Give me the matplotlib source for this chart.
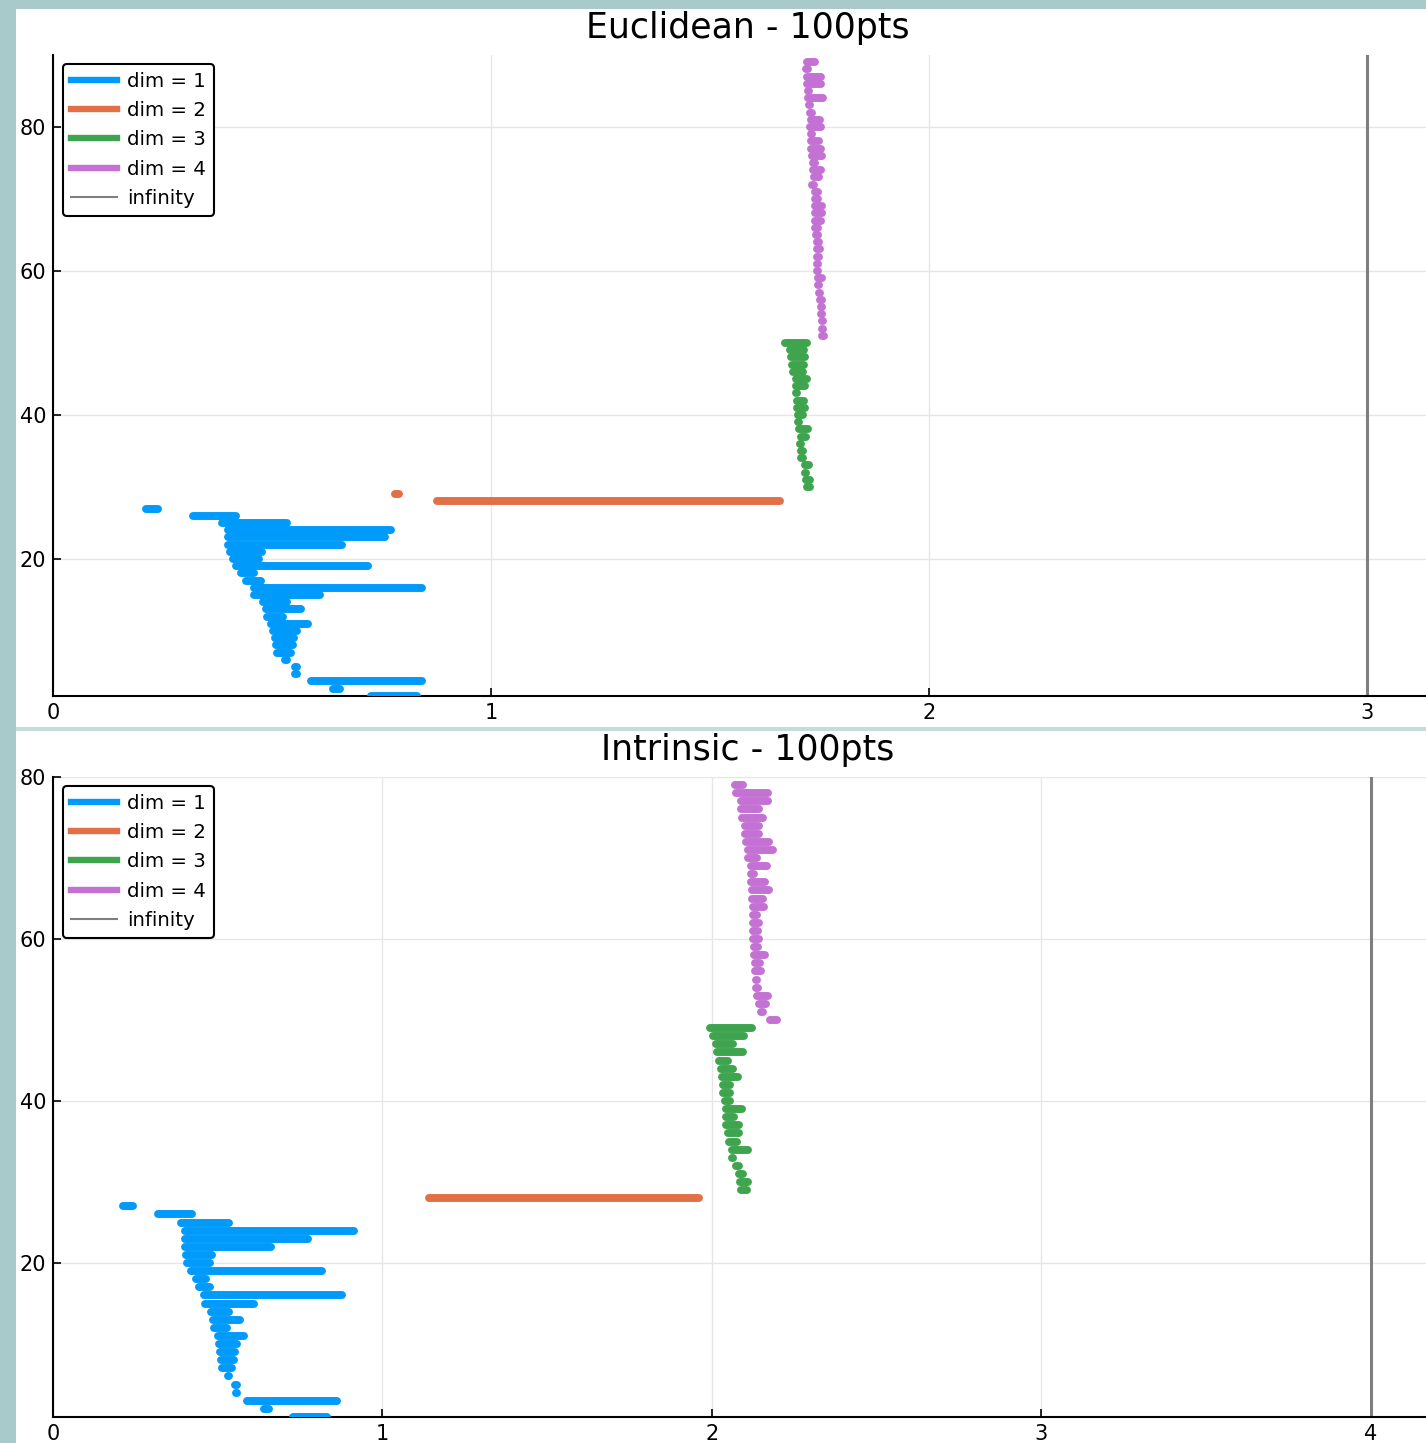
"""
Persistence barcodes for 100 sample points, Euclidean vs intrinsic distance.
"""

import matplotlib.pyplot as plt
from matplotlib.lines import Line2D
from matplotlib.patches import Rectangle

DIM_COLORS = ['#009AFA', '#E36F47', '#3EA44E', '#C371D2']
INF_COLOR = '#7f7f7f'
DIM_LABELS = ['dim = 1', 'dim = 2', 'dim = 3', 'dim = 4']

# Euclidean barcode, bars listed from the bottom up
euc_dim1_birth = [0.726, 0.640, 0.589, 0.552, 0.552, 0.530, 0.511, 0.509, 0.507, 0.502,
                  0.498, 0.489, 0.486, 0.480, 0.460, 0.459, 0.440, 0.430, 0.418, 0.410,
                  0.405, 0.400, 0.400, 0.400, 0.386, 0.320, 0.212]
euc_dim1_death = [0.830, 0.655, 0.842, 0.556, 0.556, 0.534, 0.543, 0.548, 0.550, 0.557,
                  0.582, 0.525, 0.566, 0.534, 0.610, 0.842, 0.475, 0.460, 0.720, 0.470,
                  0.478, 0.660, 0.758, 0.772, 0.534, 0.418, 0.240]
euc_dim2_birth = [0.877, 0.780]
euc_dim2_death = [1.660, 0.790]
euc_dim3_birth = [1.722, 1.719, 1.716, 1.717, 1.709, 1.708, 1.706, 1.707, 1.703, 1.700,
                  1.700, 1.699, 1.698, 1.696, 1.696, 1.696, 1.690, 1.687, 1.685, 1.683,
                  1.671]
euc_dim3_death = [1.728, 1.728, 1.719, 1.726, 1.712, 1.712, 1.709, 1.719, 1.725, 1.703,
                  1.712, 1.717, 1.714, 1.699, 1.717, 1.721, 1.712, 1.714, 1.717, 1.715,
                  1.721]
euc_dim4_birth = [1.757, 1.755, 1.755, 1.754, 1.753, 1.752, 1.749, 1.747, 1.747, 1.744,
                  1.744, 1.745, 1.745, 1.745, 1.743, 1.741, 1.741, 1.739, 1.739, 1.739,
                  1.739, 1.734, 1.737, 1.736, 1.736, 1.734, 1.731, 1.731, 1.730, 1.728,
                  1.730, 1.728, 1.726, 1.724, 1.724, 1.722, 1.722, 1.720, 1.721]
euc_dim4_death = [1.760, 1.758, 1.758, 1.757, 1.756, 1.755, 1.752, 1.750, 1.757, 1.747,
                  1.747, 1.750, 1.751, 1.750, 1.746, 1.746, 1.753, 1.756, 1.756, 1.746,
                  1.746, 1.737, 1.750, 1.753, 1.740, 1.756, 1.753, 1.750, 1.734, 1.753,
                  1.751, 1.734, 1.729, 1.759, 1.727, 1.753, 1.753, 1.723, 1.740]
euc_infinity = 3

# Intrinsic (geodesic) barcode
int_dim1_birth = [0.728, 0.640, 0.590, 0.554, 0.553, 0.531, 0.514, 0.511, 0.507, 0.503,
                  0.500, 0.489, 0.485, 0.479, 0.461, 0.459, 0.442, 0.433, 0.418, 0.408,
                  0.403, 0.401, 0.401, 0.401, 0.388, 0.320, 0.212]
int_dim1_death = [0.831, 0.656, 0.861, 0.558, 0.557, 0.535, 0.543, 0.549, 0.552, 0.558,
                  0.581, 0.527, 0.569, 0.535, 0.611, 0.876, 0.477, 0.464, 0.815, 0.477,
                  0.483, 0.662, 0.773, 0.915, 0.535, 0.421, 0.242]
int_dim2_birth = [1.141]
int_dim2_death = [1.961]
int_dim3_birth = [2.089, 2.085, 2.082, 2.072, 2.061, 2.062, 2.052, 2.049, 2.042, 2.042,
                  2.042, 2.041, 2.034, 2.034, 2.031, 2.028, 2.021, 2.016, 2.013, 2.004,
                  1.993]
int_dim3_death = [2.105, 2.110, 2.093, 2.081, 2.064, 2.110, 2.076, 2.081, 2.083, 2.066,
                  2.091, 2.056, 2.056, 2.056, 2.080, 2.065, 2.049, 2.095, 2.065, 2.098,
                  2.120]
int_dim4_birth = [2.176, 2.149, 2.143, 2.137, 2.133, 2.133, 2.130, 2.130, 2.127, 2.127,
                  2.124, 2.124, 2.124, 2.124, 2.124, 2.122, 2.122, 2.119, 2.119, 2.117,
                  2.109, 2.109, 2.104, 2.099, 2.099, 2.092, 2.087, 2.087, 2.074, 2.069]
int_dim4_death = [2.197, 2.155, 2.164, 2.170, 2.140, 2.136, 2.149, 2.146, 2.161, 2.140,
                  2.143, 2.140, 2.143, 2.137, 2.158, 2.154, 2.172, 2.162, 2.128, 2.166,
                  2.136, 2.184, 2.172, 2.144, 2.142, 2.154, 2.144, 2.171, 2.171, 2.093]
int_infinity = 4

W, H = 1426, 1443
BG = '#A8CACB'


def px_rect(x0, y0, x1, y1):
    '''Figure-fraction rectangle from pixel corners (origin top left).'''
    return [x0 / W, 1 - y1 / H, (x1 - x0) / W, (y1 - y0) / H]


def add_band(fig, x0, y0, x1, y1, color):
    left, bottom, width, height = px_rect(x0, y0, x1, y1)
    fig.add_artist(Rectangle((left, bottom), width, height, transform=fig.transFigure,
                             facecolor=color, edgecolor='none', zorder=0))


def plot_barcode(ax, births, deaths, inf_value, title, xlim, ylim, xticks):
    idx = 1
    for color, b_list, d_list in zip(DIM_COLORS, births, deaths):
        for b, d in zip(b_list, d_list):
            ax.plot([b, d], [idx, idx], color=color, lw=5.7,
                    solid_capstyle='round', zorder=3)
            idx += 1
    ax.axvline(inf_value, color=INF_COLOR, lw=2.2, zorder=2)

    ax.set_xlim(*xlim)
    ax.set_ylim(*ylim)
    ax.set_xticks(xticks)
    ax.set_yticks([20, 40, 60, 80])
    ax.grid(True, color='#e6e6e6', lw=1.0, zorder=0)
    ax.set_axisbelow(True)
    for side in ['top', 'right']:
        ax.spines[side].set_visible(False)
    for side in ['left', 'bottom']:
        ax.spines[side].set_linewidth(1.5)
    ax.tick_params(direction='in', length=5.5, width=1.2, labelsize=15, pad=5)
    ax.set_title(title, fontsize=25, pad=12, x=0.506)

    handles = [Line2D([], [], color=c, lw=4.6) for c in DIM_COLORS]
    handles.append(Line2D([], [], color=INF_COLOR, lw=1.5))
    leg = ax.legend(handles, DIM_LABELS + ['infinity'], loc='upper left',
                    bbox_to_anchor=(0.0073, 0.986), borderaxespad=0,
                    fontsize=14.2, handlelength=2.35, handletextpad=0.5,
                    labelspacing=0.52, borderpad=0.4, framealpha=1,
                    fancybox=True)
    leg.get_frame().set_edgecolor('black')
    leg.get_frame().set_linewidth(1.5)


fig = plt.figure(figsize=(W / 100, H / 100), dpi=100, facecolor=BG)
add_band(fig, 16, 9, W, 727, 'white')
add_band(fig, 16, 731, W, H, 'white')
add_band(fig, 16, 727, W, 731, '#C3DDDD')

ax1 = fig.add_axes(px_rect(53, 55, W, 696))
ax2 = fig.add_axes(px_rect(53, 777, W, 1417))

plot_barcode(ax1,
             [euc_dim1_birth, euc_dim2_birth, euc_dim3_birth, euc_dim4_birth],
             [euc_dim1_death, euc_dim2_death, euc_dim3_death, euc_dim4_death],
             euc_infinity, 'Euclidean - 100pts', (0, 3.135), (0.97, 90), [0, 1, 2, 3])
plot_barcode(ax2,
             [int_dim1_birth, int_dim2_birth, int_dim3_birth, int_dim4_birth],
             [int_dim1_death, int_dim2_death, int_dim3_death, int_dim4_death],
             int_infinity, 'Intrinsic - 100pts', (0, 4.167), (0.99, 80), [0, 1, 2, 3, 4])

fig.savefig('out.png', dpi=100, facecolor=BG)
